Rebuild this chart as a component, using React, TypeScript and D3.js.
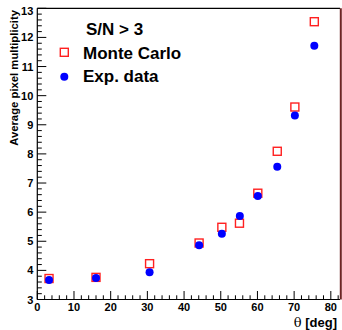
import React from "react";
import * as d3 from "d3";

const thetaMC = [3.2, 16.0, 30.6, 44.1, 50.3, 55.1, 60.1, 65.4, 70.2, 75.5];
const multMC = [3.72, 3.76, 4.23, 4.94, 5.48, 5.62, 6.65, 8.09, 9.61, 12.54];
const thetaExp = [3.2, 16.0, 30.6, 44.1, 50.3, 55.2, 60.1, 65.4, 70.2, 75.5];
const multExp = [3.67, 3.74, 3.94, 4.86, 5.26, 5.87, 6.55, 7.56, 9.32, 11.71];
const xTicks = [0, 10, 20, 30, 40, 50, 60, 70, 80];
const yTicks = [3, 4, 5, 6, 7, 8, 9, 10, 11, 12, 13];
const legendTitle = "S/N > 3";
const legendLabels = ["Monte Carlo", "Exp. data"];

const W = 342;
const H = 330;
const L = 37.3, R = 340, T = 8.3, B = 299.5;
const font = "'Liberation Sans', Arial, Helvetica, sans-serif";

export default function App() {
  const x = d3.scaleLinear().domain([0, 82.5]).range([L, R]);
  const y = d3.scaleLinear().domain([3, 13]).range([B, T]);
  const xMinor = d3.range(0, 82.5, 2).filter((v) => v % 10 !== 0);
  const yMinor = d3.range(3, 13.001, 0.2).filter((v) => Math.abs(v - Math.round(v)) > 0.01);

  return (
    <div style={{ position: "absolute", left: 0, top: 0 }}>
      <svg width={W} height={H} style={{ display: "block" }}>
        <rect x={0} y={0} width={W} height={H} fill="#fff" />
        {/* frame */}
        <line x1={L} x2={R} y1={T} y2={T} stroke="#000" strokeWidth={1.2} />
        <line x1={L} x2={L} y1={T} y2={B} stroke="#000" strokeWidth={1.2} />
        <line x1={L} x2={R} y1={B} y2={B} stroke="#000" strokeWidth={1.2} />
        <line x1={R + 0.8} x2={R + 0.8} y1={T} y2={B} stroke="#6e2424" strokeWidth={2} />
        {/* x ticks */}
        {xTicks.map((t) => (
          <line key={"xM" + t} x1={x(t)} x2={x(t)} y1={B} y2={B - 8.5} stroke="#000" strokeWidth={1} />
        ))}
        {xMinor.map((t) => (
          <line key={"xm" + t} x1={x(t)} x2={x(t)} y1={B} y2={B - 4.2} stroke="#000" strokeWidth={1} />
        ))}
        {xTicks.map((t) => (
          <text key={"xl" + t} x={x(t)} y={B + 11} textAnchor="middle" fontFamily={font} fontWeight="bold" fontSize={11} fill="#000">
            {t}
          </text>
        ))}
        {/* y ticks */}
        {yTicks.map((t) => (
          <line key={"yM" + t} x1={L} x2={L + 9} y1={y(t)} y2={y(t)} stroke="#000" strokeWidth={1} />
        ))}
        {yMinor.map((t) => (
          <line key={"ym" + t.toFixed(1)} x1={L} x2={L + 4.5} y1={y(t)} y2={y(t)} stroke="#000" strokeWidth={1} />
        ))}
        {yTicks.map((t) => (
          <text key={"yl" + t} x={L - 4} y={y(t) + (t === 13 ? 6.5 : 4)} textAnchor="end" fontFamily={font} fontWeight="bold" fontSize={11} fill="#000">
            {t}
          </text>
        ))}
        {/* axis titles */}
        <text x={R - 3} y={327} textAnchor="end" fontFamily={font} fontWeight="bold" fontSize={13} fill="#000">
          <tspan fontWeight="normal" fontFamily="'DejaVu Serif', 'Liberation Serif', serif">θ</tspan> [deg]
        </text>
        <text transform={`translate(18,10) rotate(-90)`} textAnchor="end" fontFamily={font} fontWeight="bold" fontSize={11.3} fill="#000">
          Average pixel multiplicity
        </text>
        {/* data */}
        {thetaMC.map((t, i) => (
          <rect key={"mc" + i} x={x(t) - 4} y={y(multMC[i]) - 4} width={8} height={8} fill="none" stroke="#ff2020" strokeWidth={1.4} />
        ))}
        {thetaExp.map((t, i) => (
          <circle key={"ex" + i} cx={x(t)} cy={y(multExp[i])} r={4} fill="#0000ff" />
        ))}
        {/* legend */}
        <text x={86} y={35} fontFamily={font} fontWeight="bold" fontSize={17} fill="#000">{legendTitle}</text>
        <rect x={60.3} y={48.3} width={8} height={8} fill="none" stroke="#ff2020" strokeWidth={1.4} />
        <text x={83} y={59} fontFamily={font} fontWeight="bold" fontSize={17} fill="#000">{legendLabels[0]}</text>
        <circle cx={64.3} cy={76.7} r={4} fill="#0000ff" />
        <text x={83} y={82} fontFamily={font} fontWeight="bold" fontSize={17} fill="#000">{legendLabels[1]}</text>
      </svg>
    </div>
  );
}
